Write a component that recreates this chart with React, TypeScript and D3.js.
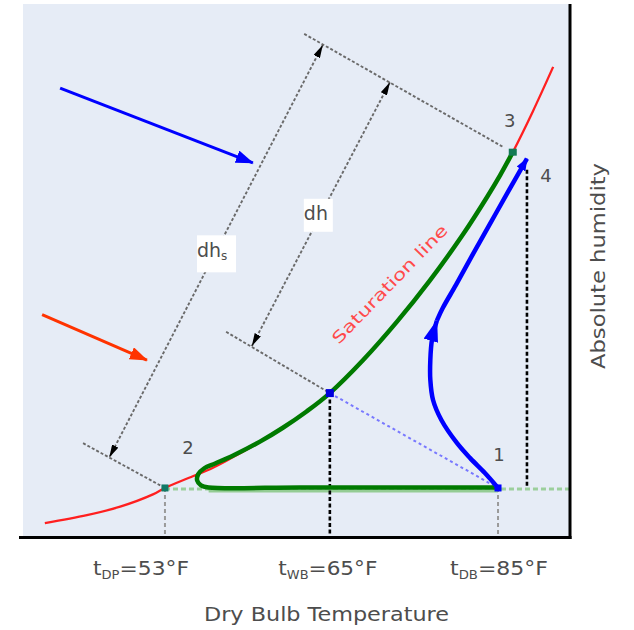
import React from 'react';
import * as d3 from 'd3';

type Pt = [number, number];

// Schematic psychrometric chart: x = dry-bulb position, y = absolute humidity (0–100 schematic units)
const saturationLine: Pt[] = [
  [4.0, 2.6], [11.7, 4.1], [17.8, 5.7], [23.8, 8.0], [26.0, 9.2], [31.1, 11.4], [34.8, 13.0],
  [38.5, 15.0], [43.4, 17.8], [47.6, 20.5], [52.0, 23.6], [56.2, 27.0], [62.3, 33.2], [68.5, 40.4],
  [74.5, 48.1], [80.6, 56.8], [85.0, 63.8], [87.4, 67.9], [89.7, 72.2], [93.4, 79.9], [97.1, 88.2],
];

const coilProcess: Pt[] = [
  [87.0, 9.3], [69.0, 9.3], [50.7, 9.3], [34.0, 9.3], [32.6, 9.7], [31.9, 10.6], [32.1, 11.8],
  [33.2, 12.9], [35.2, 13.8], [38.5, 15.3], [43.4, 17.9], [47.6, 20.5], [52.0, 23.6], [56.2, 27.0],
  [62.3, 33.2], [68.5, 40.4], [74.5, 48.1], [80.6, 56.8], [85.0, 63.8], [87.4, 67.9], [89.7, 72.2],
];

const fanProcessLower: Pt[] = [
  [87.0, 9.2], [84.6, 12.0], [81.9, 14.8], [79.5, 17.6], [76.6, 22.0], [75.1, 25.7], [74.6, 29.5],
  [74.6, 33.2], [74.9, 37.0], [75.8, 40.6],
];
const fanProcessUpper: Pt[] = [
  [75.8, 40.6], [76.9, 43.0], [79.3, 47.3], [82.2, 52.7], [85.5, 58.7], [88.8, 64.7], [92.3, 71.0],
];

const enthalpyState3: Pt[] = [[51.5, 94.4], [87.9, 73.2]];
const enthalpyWetBulb: Pt[] = [[37.2, 38.5], [56.2, 27.0]];
const wetBulbLine: Pt[] = [[56.2, 27.0], [87.0, 9.2]];
const enthalpyState2: Pt[] = [[11.0, 17.6], [26.0, 9.2]];

const dimTotal: Pt[] = [[54.9, 92.3], [15.8, 14.9]];
const dimLatent: Pt[] = [[67.2, 85.3], [41.9, 35.8]];

const pointerBlue: Pt[] = [[6.8, 84.2], [42.1, 70.2]];
const pointerRed: Pt[] = [[3.5, 41.7], [22.7, 33.2]];

const stateLabels = ['1', '2', '3', '4'];
const stateX = [87.0, 26.0, 89.7, 92.3];
const stateY = [9.2, 9.2, 72.2, 71.0];
const wetBulbPoint: Pt = [56.2, 27.0];

const tickValues = [26.0, 56.2, 87.0];
const tickSymbols = ['t', 't', 't'];
const tickSubscripts = ['DP', 'WB', 'DB'];
const tickTexts = ['=53°F', '=65°F', '=85°F'];

const xTitle = 'Dry Bulb Temperature';
const yTitle = 'Absolute humidity';
const curveLabel = 'Saturation line';
const curveLabelAnchor: Pt = [67.9, 46.7];

export default function App() {
  const W = 634, H = 630;
  const left = 23, right = 569, top = 4, bottom = 537;
  const x = d3.scaleLinear().domain([0, 100]).range([left, right]);
  const y = d3.scaleLinear().domain([0, 100]).range([bottom, top]);
  const straight = d3.line<Pt>().x(d => x(d[0])).y(d => y(d[1]));
  const smooth = d3.line<Pt>().x(d => x(d[0])).y(d => y(d[1])).curve(d3.curveCatmullRom.alpha(0.5));

  const font = "'DejaVu Sans', Verdana, sans-serif";
  const textColor = '#4d4d4d';

  const labelOffsets: Pt[] = [[1, -33], [23, -40], [-3, -32], [19, 17]];
  const tickLabelShift = [-24, -2, 1];
  const tickLabelLengths = [96, 99, 98];

  const mid = (p: Pt[]) => [(x(p[0][0]) + x(p[1][0])) / 2, (y(p[0][1]) + y(p[1][1])) / 2];
  const mT = mid(dimTotal);
  const mL = mid(dimLatent);

  const dimStyle = { stroke: '#6a6a6a', strokeWidth: 1.9, strokeDasharray: '3,2', fill: 'none' };

  return (
    <svg width={W} height={H} style={{ position: 'absolute', left: 0, top: 0, background: '#fff' }}>
      <defs>
        <marker id="arrBlueMid" markerUnits="userSpaceOnUse" viewBox="0 0 22 15" refX="21" refY="7.5" markerWidth="22" markerHeight="15" orient="auto">
          <path d="M0,0L22,7.5L0,15Z" fill="#0000ff" />
        </marker>
        <marker id="arrBlueTop" markerUnits="userSpaceOnUse" viewBox="0 0 13 10" refX="12" refY="5" markerWidth="13" markerHeight="10" orient="auto">
          <path d="M0,0L13,5L0,10Z" fill="#0000ff" />
        </marker>
        <marker id="arrBluePtr" markerUnits="userSpaceOnUse" viewBox="0 0 18 13" refX="17" refY="6.5" markerWidth="18" markerHeight="13" orient="auto">
          <path d="M0,0L18,6.5L0,13Z" fill="#0000ff" />
        </marker>
        <marker id="arrRedPtr" markerUnits="userSpaceOnUse" viewBox="0 0 18 13" refX="17" refY="6.5" markerWidth="18" markerHeight="13" orient="auto">
          <path d="M0,0L18,6.5L0,13Z" fill="#ff3300" />
        </marker>
        <marker id="arrDim" markerUnits="userSpaceOnUse" viewBox="0 0 13 7" refX="13" refY="3.5" markerWidth="13" markerHeight="7" orient="auto-start-reverse">
          <path d="M0,0L13,3.5L0,7Z" fill="#000" />
        </marker>
      </defs>

      <rect x={left} y={top} width={right - left} height={bottom - top} fill="#e6ecf6" />

      {/* horizontal light-green line at state 1/2 humidity */}
      <path d={straight([[stateX[1], 9.0], [100, 9.0]])!} stroke="#9ccf9c" strokeWidth={3} strokeDasharray="5,3" fill="none" />
      <path d={straight([[34.0, 8.65], [stateX[0], 8.65]])!} stroke="#94cc94" strokeWidth={3} fill="none" />

      {/* drop lines to the axis */}
      {tickValues.map((t, i) => (
        <path key={'drop' + i}
          d={straight([[t, i === 1 ? wetBulbPoint[1] : stateY[0]], [t, 0]])!}
          stroke={i === 1 ? '#000' : '#9a9a9a'} strokeWidth={i === 1 ? 2.6 : 2}
          strokeDasharray={i === 1 ? '4,2.5' : '4,3'} fill="none" />
      ))}
      <path d={straight([[stateX[3], 68.9], [stateX[3], stateY[0]]])!} stroke="#000" strokeWidth={2.6} strokeDasharray="4,2.5" fill="none" />

      {/* constant-enthalpy lines */}
      <path d={straight(enthalpyState3)!} {...dimStyle} />
      <path d={straight(enthalpyWetBulb)!} {...dimStyle} />
      <path d={straight(enthalpyState2)!} {...dimStyle} />
      <path d={straight(wetBulbLine)!} stroke="#7878ff" strokeWidth={2} strokeDasharray="3,3" fill="none" />

      {/* dimension lines */}
      <path d={straight(dimTotal)!} {...dimStyle} markerStart="url(#arrDim)" markerEnd="url(#arrDim)" />
      <path d={straight(dimLatent)!} {...dimStyle} markerStart="url(#arrDim)" markerEnd="url(#arrDim)" />

      <rect x={mT[0] - 19} y={mT[1] - 16} width={39} height={37} fill="#fff" />
      <text x={mT[0] - 19} y={mT[1] + 6} fontFamily={font} fontSize={19} fill={textColor}>
        dh<tspan fontSize={12} dy={3}>s</tspan>
      </text>
      <rect x={mL[0] - 17} y={mL[1] - 15.5} width={29} height={33} fill="#fff" />
      <text x={mL[0] - 17} y={mL[1] + 6} fontFamily={font} fontSize={19} fill={textColor}>dh</text>

      {/* saturation curve */}
      <path d={smooth(saturationLine)!} stroke="#ff1f1f" strokeWidth={2.3} fill="none" />

      {/* cooling coil process (green) */}
      <path d={smooth(coilProcess)!} stroke="#007a00" strokeWidth={4.5} fill="none" strokeLinejoin="round" />

      {/* fan / reheat process (blue) */}
      <path d={smooth(fanProcessLower)!} stroke="#0000ff" strokeWidth={4.5} fill="none" markerEnd="url(#arrBlueMid)" />
      <path d={smooth(fanProcessUpper)!} stroke="#0000ff" strokeWidth={4.5} fill="none" markerEnd="url(#arrBlueTop)" />

      {/* state point markers */}
      <rect x={x(stateX[1]) - 3.5} y={y(stateY[1]) - 3.5} width={7} height={7} fill="#117a66" />
      <rect x={x(stateX[2]) - 4} y={y(stateY[2]) - 3.5} width={8} height={7} fill="#137a55" />
      <rect x={x(wetBulbPoint[0]) - 4} y={y(wetBulbPoint[1]) - 4} width={8} height={8} fill="#0000dd" />
      <rect x={x(stateX[0]) - 3.5} y={y(stateY[0]) - 3.5} width={7} height={7} fill="#0000ff" />

      {/* pointer arrows */}
      <path d={straight(pointerBlue)!} stroke="#0000ff" strokeWidth={3} fill="none" markerEnd="url(#arrBluePtr)" />
      <path d={straight(pointerRed)!} stroke="#ff3300" strokeWidth={3} fill="none" markerEnd="url(#arrRedPtr)" />

      {/* state labels */}
      {stateLabels.map((s, i) => (
        <text key={s} x={x(stateX[i]) + labelOffsets[i][0]} y={y(stateY[i]) + labelOffsets[i][1]}
          dy="0.36em" textAnchor="middle" fontFamily={font} fontSize={18} fill={textColor}>{s}</text>
      ))}

      {/* saturation label */}
      <text transform={`translate(${x(curveLabelAnchor[0])},${y(curveLabelAnchor[1])}) rotate(-46)`}
        textAnchor="middle" fontFamily={font} fontSize={16} fill="#ff4a4a" textLength={158} lengthAdjust="spacingAndGlyphs">
        {curveLabel}
      </text>

      {/* axes */}
      <line x1={19} x2={571.5} y1={bottom + 0.5} y2={bottom + 0.5} stroke="#000" strokeWidth={3} />
      <line x1={right + 1} x2={right + 1} y1={top} y2={bottom + 2} stroke="#000" strokeWidth={3} />

      {/* tick labels */}
      {tickValues.map((t, i) => (
        <text key={'tl' + i} x={x(t) + tickLabelShift[i]} y={575} textAnchor="middle" fontFamily={font}
          fontSize={20} fill={textColor} textLength={tickLabelLengths[i]} lengthAdjust="spacingAndGlyphs">
          {tickSymbols[i]}<tspan fontSize={12} dy={4}>{tickSubscripts[i]}</tspan><tspan dy={-4}>{tickTexts[i]}</tspan>
        </text>
      ))}

      <text x={326.5} y={621} textAnchor="middle" fontFamily={font} fontSize={20} fill={textColor}
        textLength={245} lengthAdjust="spacingAndGlyphs">{xTitle}</text>

      <text transform={`translate(605,266) rotate(-90)`} textAnchor="middle" fontFamily={font} fontSize={20}
        fill={textColor} textLength={206} lengthAdjust="spacingAndGlyphs">{yTitle}</text>
    </svg>
  );
}
